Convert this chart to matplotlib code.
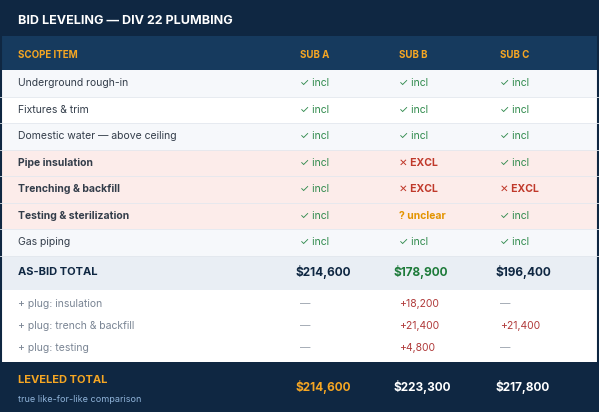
import matplotlib.pyplot as plt
from matplotlib.patches import Rectangle

plt.rcParams['font.family'] = ['Inter', 'DejaVu Sans']

title = "BID LEVELING — DIV 22 PLUMBING"
headers = ["SCOPE ITEM", "SUB A", "SUB B", "SUB C"]
scope_items = ["Underground rough-in", "Fixtures & trim", "Domestic water — above ceiling",
               "Pipe insulation", "Trenching & backfill", "Testing & sterilization", "Gas piping"]
status_a = ["incl", "incl", "incl", "incl", "incl", "incl", "incl"]
status_b = ["incl", "incl", "incl", "excl", "excl", "unclear", "incl"]
status_c = ["incl", "incl", "incl", "incl", "excl", "incl", "incl"]
flagged = [False, False, False, True, True, True, False]
bid_totals = [214600, 178900, 196400]
plug_labels = ["+ plug: insulation", "+ plug: trench & backfill", "+ plug: testing"]
plug_a = [0, 0, 0]
plug_b = [18200, 21400, 4800]
plug_c = [0, 21400, 0]
leveled = [214600, 223300, 217800]

NAVY = "#0f2742"
HEAD = "#163a5e"
ORANGE = "#f5a623"
GREEN = "#2f8a4c"
RED = "#c0392b"

fig = plt.figure(figsize=(5.99, 4.12), dpi=100)
ax = fig.add_axes([0, 0, 1, 1])
ax.set_xlim(0, 599)
ax.set_ylim(412, 0)
ax.axis('off')

def rect(y0, y1, color):
    ax.add_patch(Rectangle((0, y0), 599, y1 - y0, color=color, lw=0))

cols = [300, 399, 500]

rect(0, 412, "white")
rect(0, 36, NAVY)
ax.text(18, 21, title, color="white", fontsize=9, fontweight="bold", va="center")
rect(36, 70, HEAD)
for x, h in zip([18] + cols, headers):
    ax.text(x, 55, h, color=ORANGE, fontsize=7, fontweight="bold", va="center")

row_h = 26.5
for i, item in enumerate(scope_items):
    y0 = 70 + i * row_h
    yc = y0 + row_h / 2
    if flagged[i]:
        rect(y0, y0 + row_h, "#fcecea")
    elif i % 2 == 0:
        rect(y0, y0 + row_h, "#f6f8fb")
    ax.plot([0, 599], [y0 + row_h, y0 + row_h], color="#e3e8ee", lw=0.6)
    ax.text(18, yc, item, color="#333d4a", fontsize=7.5,
            fontweight="bold" if flagged[i] else "normal", va="center")
    for x, st in zip(cols, [status_a[i], status_b[i], status_c[i]]):
        if st == "incl":
            ax.text(x, yc, "✓ incl", color=GREEN, fontsize=7.5, va="center")
        elif st == "excl":
            ax.text(x, yc, "✕ EXCL", color=RED, fontsize=7.5, fontweight="bold", va="center")
        else:
            ax.text(x, yc, "? unclear", color="#e39400", fontsize=7.5, fontweight="bold", va="center")

ytot0 = 70 + 7 * row_h
rect(ytot0, 290, "#e9eef4")
ax.text(18, 272, "AS-BID TOTAL", color=NAVY, fontsize=8, fontweight="bold", va="center")
for x, v, c in zip(cols, bid_totals, [NAVY, "#1e7b3a", NAVY]):
    ax.text(x - 5, 272, f"${v:,}", color=c, fontsize=8.5, fontweight="bold", va="center")

for j, lab in enumerate(plug_labels):
    yc = 304 + j * 22
    ax.text(18, yc, lab, color="#7a8594", fontsize=7.5, va="center")
    for x, v in zip(cols, [plug_a[j], plug_b[j], plug_c[j]]):
        if v:
            ax.text(x, yc, f"+{v:,}", color="#b03a3a", fontsize=7.5, va="center")
        else:
            ax.text(x, yc, "—", color="#9aa3ad", fontsize=7.5, va="center")

rect(362, 412, NAVY)
ax.text(18, 380, "LEVELED TOTAL", color=ORANGE, fontsize=8, fontweight="bold", va="center")
ax.text(18, 400, "true like-for-like comparison", color="#8fb3d9", fontsize=6.5, va="center")
for x, v, c in zip(cols, leveled, [ORANGE, "white", "white"]):
    ax.text(x - 5, 387, f"${v:,}", color=c, fontsize=8.5, fontweight="bold", va="center")

ax.add_patch(Rectangle((0.5, 0.5), 597, 411, fill=False, ec=NAVY, lw=1.5))

fig.savefig("out.png", dpi=100)
